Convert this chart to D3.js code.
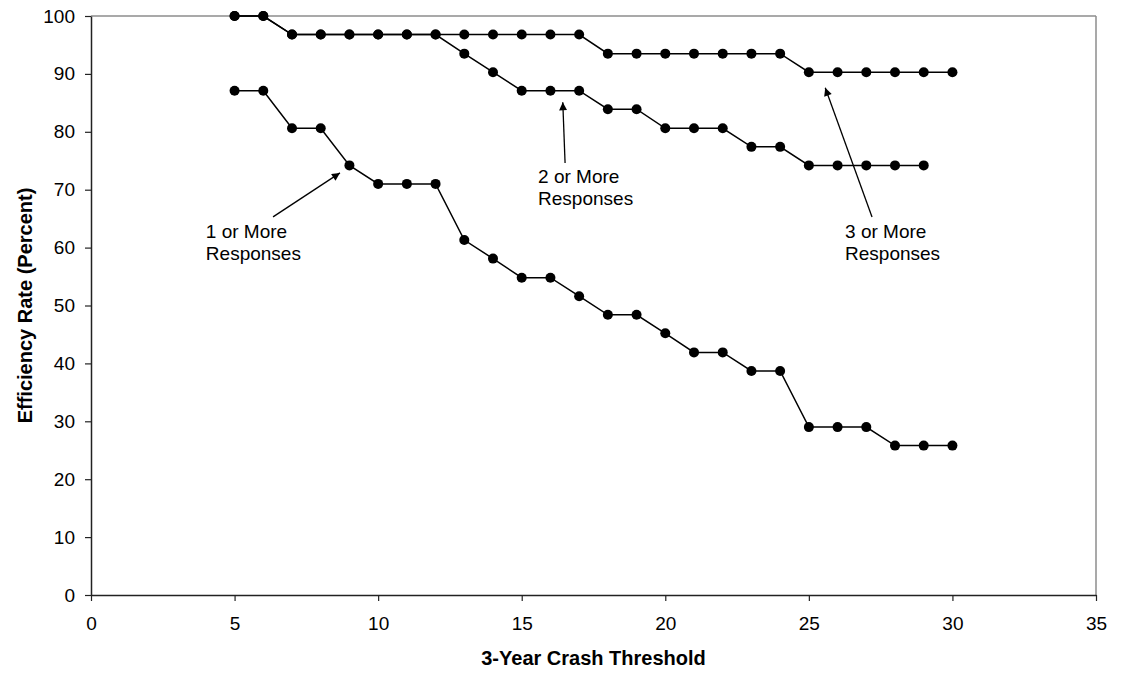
<!DOCTYPE html>
<html>
<head>
<meta charset="utf-8">
<script src="https://cdn.jsdelivr.net/npm/d3@7"></script>
<style>
  body { margin: 0; background: #fff; }
  svg { display: block; font-family: Arial, "Liberation Sans", sans-serif; }
  .tick text { font-size: 19px; fill: #000; }
</style>
</head>
<body>
<div id="chart"></div>
<script>
'use strict'
// thresholds and efficiency rates (percent)
let thresholds = [5,6,7,8,9,10,11,12,13,14,15,16,17,18,19,20,21,22,23,24,25,26,27,28,29,30];
let oneOrMore = [87.1,87.1,80.6,80.6,74.2,71.0,71.0,71.0,61.3,58.1,54.8,54.8,51.6,48.4,48.4,45.2,41.9,41.9,38.7,38.7,29.0,29.0,29.0,25.8,25.8,25.8];
let twoOrMore = [100,100,96.8,96.8,96.8,96.8,96.8,96.8,93.5,90.3,87.1,87.1,87.1,83.9,83.9,80.6,80.6,80.6,77.4,77.4,74.2,74.2,74.2,74.2,74.2];
let threeOrMore = [100,100,96.8,96.8,96.8,96.8,96.8,96.8,96.8,96.8,96.8,96.8,96.8,93.5,93.5,93.5,93.5,93.5,93.5,93.5,90.3,90.3,90.3,90.3,90.3,90.3];
let xTicks = [0,5,10,15,20,25,30,35];
let yTicks = [0,10,20,30,40,50,60,70,80,90,100];
// annotation label + arrow, in data units: [textX, textY, fromX, fromY, toX, toY]
let notes = [
  {lines: ['1 or More', 'Responses'], pos: [4.0, 61.7, 6.34, 65.3, 8.67, 72.9]},
  {lines: ['2 or More', 'Responses'], pos: [15.57, 71.2, 16.51, 74.6, 16.43, 85.1]},
  {lines: ['3 or More', 'Responses'], pos: [26.26, 61.7, 27.2, 65.3, 25.57, 87.6]}
];

let margin = {top: 16, right: 26, bottom: 78, left: 91}
  , W = 1122, H = 673
  , width = W - margin.left - margin.right
  , height = H - margin.top - margin.bottom;

let svg = d3.select('#chart').append('svg')
  .attr('width', W).attr('height', H);

svg.append('defs').append('marker')
  .attr('id', 'arrow')
  .attr('viewBox', '0 0 10 10')
  .attr('refX', 10).attr('refY', 5)
  .attr('markerWidth', 9).attr('markerHeight', 8)
  .attr('markerUnits', 'userSpaceOnUse')
  .attr('orient', 'auto')
  .append('path').attr('d', 'M0,0 L10,5 L0,10 z').attr('fill', '#000');

let g = svg.append('g').attr('transform', 'translate(' + margin.left + ',' + margin.top + ')');

let x = d3.scaleLinear().domain([0, 35]).range([0, width]);
let y = d3.scaleLinear().domain([0, 100]).range([height, 0]);

// frame: top/right gray
g.append('line').attr('x1', 0).attr('x2', width).attr('y1', 0).attr('y2', 0)
  .attr('stroke', '#8c8c8c').attr('stroke-width', 1.5);
g.append('line').attr('x1', width).attr('x2', width).attr('y1', 0).attr('y2', height)
  .attr('stroke', '#8c8c8c').attr('stroke-width', 1.5);

let xAxis = g.append('g')
  .attr('transform', 'translate(0,' + height + ')')
  .call(d3.axisBottom(x).tickValues(xTicks).tickSize(6).tickPadding(16).tickSizeOuter(0));
let yAxis = g.append('g')
  .call(d3.axisLeft(y).tickValues(yTicks).tickSize(6).tickPadding(10).tickSizeOuter(0));
[xAxis, yAxis].forEach(function(a) {
  a.select('.domain').attr('stroke', '#222').attr('stroke-width', 1.5);
  a.selectAll('.tick line').attr('stroke', '#222').attr('stroke-width', 1.2);
});

svg.append('text')
  .attr('x', margin.left + width / 2).attr('y', 665)
  .attr('text-anchor', 'middle')
  .attr('font-size', '20px').attr('font-weight', 'bold')
  .text('3-Year Crash Threshold');
svg.append('text')
  .attr('transform', 'translate(32,' + (margin.top + height / 2) + ') rotate(-90)')
  .attr('text-anchor', 'middle')
  .attr('font-size', '20px').attr('font-weight', 'bold')
  .text('Efficiency Rate (Percent)');

let line = d3.line().x(function(d) { return x(d[0]); }).y(function(d) { return y(d[1]); });

[oneOrMore, twoOrMore, threeOrMore].forEach(function(vals) {
  let pts = vals.map(function(v, i) { return [thresholds[i], v]; });
  g.append('path').datum(pts)
    .attr('fill', 'none').attr('stroke', '#000').attr('stroke-width', 1.5)
    .attr('d', line);
  g.selectAll(null).data(pts).enter().append('circle')
    .attr('cx', function(d) { return x(d[0]); })
    .attr('cy', function(d) { return y(d[1]); })
    .attr('r', 5).attr('fill', '#000');
});

notes.forEach(function(n) {
  let p = n.pos;
  g.append('line')
    .attr('x1', x(p[2])).attr('y1', y(p[3]))
    .attr('x2', x(p[4])).attr('y2', y(p[5]))
    .attr('stroke', '#000').attr('stroke-width', 1.3)
    .attr('marker-end', 'url(#arrow)');
  let t = g.append('text')
    .attr('x', x(p[0])).attr('y', y(p[1]))
    .attr('font-size', '19px').attr('fill', '#000');
  n.lines.forEach(function(s, i) {
    t.append('tspan').attr('x', x(p[0])).attr('dy', i ? 22 : 0).text(s);
  });
});
</script>
</body>
</html>
